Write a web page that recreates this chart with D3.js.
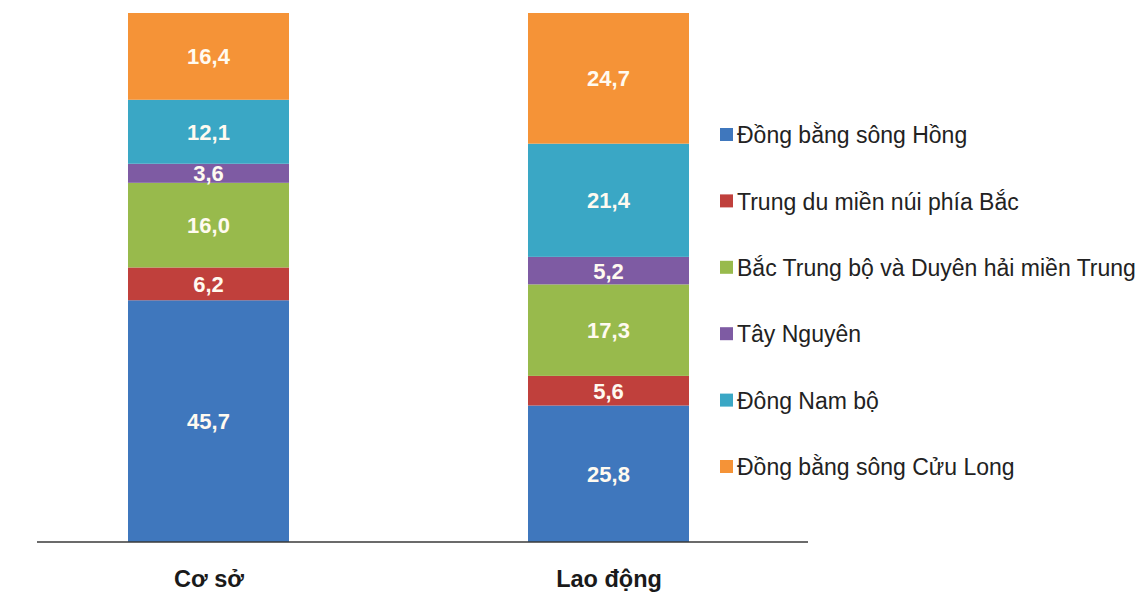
<!DOCTYPE html>
<html>
<head>
<meta charset="utf-8">
<script src="https://cdn.jsdelivr.net/npm/d3@7"></script>
<style>
  html, body { margin: 0; padding: 0; background: #ffffff; }
  svg { display: block; font-family: "Liberation Sans", Arial, sans-serif; }
</style>
</head>
<body>
<svg id="chart" width="1142" height="592"></svg>
<script>
// Categories on the x axis
const categories = ["Cơ sở", "Lao động"];
// Regions, bottom to top of each stack
const regions = [
  "Đồng bằng sông Hồng",
  "Trung du miền núi phía Bắc",
  "Bắc Trung bộ và Duyên hải miền Trung",
  "Tây Nguyên",
  "Đông Nam bộ",
  "Đồng bằng sông Cửu Long"
];
// Shares (%) per region, one array per category
const coSo    = [45.7, 6.2, 16.0, 3.6, 12.1, 16.4];
const laoDong = [25.8, 5.6, 17.3, 5.2, 21.4, 24.7];
const regionColors = ["#3f77bd", "#c0403c", "#98ba4c", "#7e5ba3", "#3aa7c5", "#f59337"];

const seriesValues = [coSo, laoDong];
const rows = categories.map((c, i) => {
  const row = { category: c };
  regions.forEach((r, j) => { row[r] = seriesValues[i][j]; });
  return row;
});

const svg = d3.select("#chart");
const baseY = 542, topY = 13;
const barWidth = 161;

const x = d3.scalePoint().domain(categories).range([208.5, 608.5]);
const y = d3.scaleLinear().domain([0, 100]).range([baseY, topY]);
const color = d3.scaleOrdinal().domain(regions).range(regionColors);

const stacked = d3.stack().keys(regions)(rows);

const fmt = v => d3.format(".1f")(v).replace(".", ",");

const layers = svg.append("g").selectAll("g")
  .data(stacked).join("g")
  .attr("fill", d => color(d.key));

layers.selectAll("rect")
  .data(d => d).join("rect")
  .attr("x", d => x(d.data.category) - barWidth / 2)
  .attr("width", barWidth)
  .attr("y", d => y(d[1]))
  .attr("height", d => y(d[0]) - y(d[1]));

// Value labels inside each segment
const labels = svg.append("g");
stacked.forEach(layer => {
  layer.forEach(d => {
    labels.append("text")
      .attr("x", x(d.data.category))
      .attr("y", (y(d[0]) + y(d[1])) / 2)
      .attr("dy", "0.36em")
      .attr("text-anchor", "middle")
      .attr("fill", "#fffaf0")
      .attr("font-weight", "bold")
      .attr("font-size", 22)
      .text(fmt(d[1] - d[0]));
  });
});

// Baseline
svg.append("line")
  .attr("x1", 37).attr("x2", 808)
  .attr("y1", baseY).attr("y2", baseY)
  .attr("stroke", "#3a3a3a").attr("stroke-width", 1.6);

// Category labels
const xAxis = d3.axisBottom(x).tickSize(0).tickPadding(0);
const axisG = svg.append("g").attr("transform", `translate(0,${baseY})`).call(xAxis);
axisG.select(".domain").remove();
axisG.selectAll("text")
  .attr("y", 45)
  .attr("dy", 0)
  .attr("font-family", "\"Liberation Sans\", Arial, sans-serif")
  .attr("font-size", 23.5)
  .attr("font-weight", "bold")
  .attr("fill", "#1a1a1a");

// Legend, listed top-down in the same order as the stack bottom-up
const legend = svg.append("g").attr("transform", "translate(720,0)");
const legendY = d3.scalePoint().domain(regions).range([135, 467]);
const items = legend.selectAll("g").data(regions).join("g")
  .attr("transform", d => `translate(0,${legendY(d)})`);
items.append("rect")
  .attr("x", 0).attr("y", -7).attr("width", 13).attr("height", 13)
  .attr("fill", d => color(d));
items.append("text")
  .attr("x", 17).attr("y", 0).attr("dy", "0.36em")
  .attr("font-size", 23)
  .attr("fill", "#222")
  .text(d => d);
</script>
</body>
</html>
